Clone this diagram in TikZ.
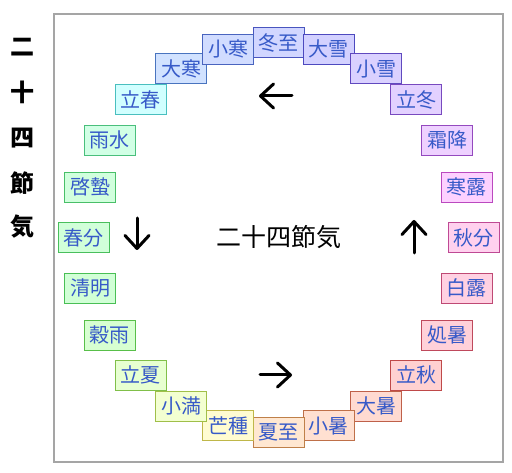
\PassOptionsToPackage{rgb}{xcolor}
\documentclass[tikz,border=0pt]{standalone}
\usepackage{fontspec}
\newfontfamily\jp{Noto Sans CJK JP}
\usetikzlibrary{arrows.meta}
\definecolor{termtext}{RGB}{55,90,200}
\definecolor{framegray}{RGB}{165,165,165}
\tikzset{
  term/.style={draw, line width=0.9pt, minimum width=51pt, minimum height=30pt, inner sep=0pt,
    text=termtext, font=\jp\fontsize{20}{20}\selectfont},
  dirarrow/.style={line width=3pt, line cap=round, -{Straight Barb[length=13pt,width=24pt,line width=3pt,round]}},
  sidechar/.style={font=\jp\bfseries\fontsize{24}{24}\selectfont, text=black},
}
\begin{document}
\begin{tikzpicture}[x=1pt,y=-1pt]
\useasboundingbox (0,0) rectangle (512,473);
\draw[framegray, line width=1.2pt] (54,14) rectangle (503,462);
% vertical title
\foreach \ch/\yy [count=\k] in {二/47,十/92,四/138,節/183,気/227}
  \node[sidechar] (side\k) at (22,\yy) {\ch};
% centre
\node[font=\jp\fontsize{25}{25}\selectfont] (center) at (278.5,237) {二十四節気};
% terms
\foreach \ang/\txt/\hue [count=\i] in {
  90/冬至/234, 75/大雪/242, 60/小雪/252, 45/立冬/264, 30/霜降/278, 15/寒露/298,
  0/秋分/322, -15/白露/338, -30/処暑/350, -45/立秋/0, -60/大暑/12, -75/小暑/20,
  -90/夏至/28, -105/芒種/56, -120/小満/76, -135/立夏/92, -150/穀雨/112, -165/清明/126,
  180/春分/130, 165/啓蟄/136, 150/雨水/146, 135/立春/180, 120/大寒/218, 105/小寒/226}
{
  \definecolor{fc}{Hsb}{\hue,0.18,1}
  \definecolor{dc}{Hsb}{\hue,0.62,0.75}
  \node[term, fill=fc, draw=dc] (t\i) at ({278.5+195*cos(\ang)},{237.5-195*sin(\ang)}) {\txt};
}
% direction arrows
\coordinate (la) at (292,96); \coordinate (lb) at (259,96);
\coordinate (da) at (137,218); \coordinate (db) at (137,250);
\coordinate (ra) at (260,375); \coordinate (rb) at (292,375);
\coordinate (ua) at (414,253); \coordinate (ub) at (414,220);
\draw[dirarrow] (la) -- (lb);
\draw[dirarrow] (da) -- (db);
\draw[dirarrow] (ra) -- (rb);
\draw[dirarrow] (ua) -- (ub);
\end{tikzpicture}
\end{document}
